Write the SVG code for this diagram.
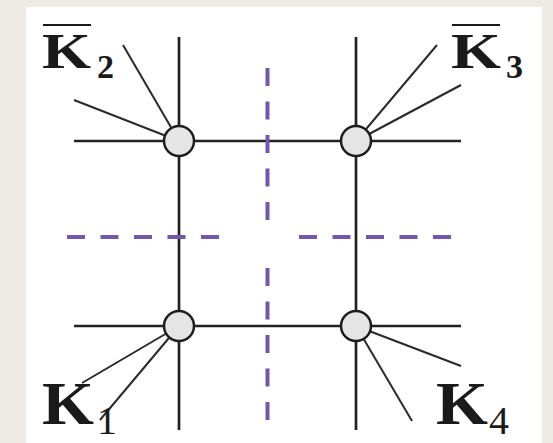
<svg xmlns="http://www.w3.org/2000/svg" width="553" height="443" viewBox="0 0 553 443">
  <style>
    .grid { stroke: #222; stroke-width: 2.7; fill: none; }
    .spoke { stroke: #2a2a2a; stroke-width: 2; fill: none; }
    .cut { stroke: #7257aa; stroke-width: 4; stroke-dasharray: 18 15.5; fill: none; }
    .vertex { fill: #e5e5e5; stroke: #1e1e1e; stroke-width: 2.5; }
    .K { font-family: "Liberation Serif", "Times New Roman", serif; font-weight: bold; fill: #1a1a1a; }
    .sub { font-family: "Liberation Serif", "Times New Roman", serif; fill: #1a1a1a; }
    .bar { stroke: #1a1a1a; stroke-width: 2.2; }
  </style>
  <rect x="0" y="0" width="553" height="443" fill="#eeebe4"/>
  <rect x="26" y="7" width="516" height="436" fill="#ffffff"/>

  <g id="connectors">
    <line class="grid" x1="179" y1="37" x2="179" y2="430"/>
    <line class="grid" x1="356" y1="37" x2="356" y2="430"/>
    <line class="grid" x1="74" y1="141" x2="461" y2="141"/>
    <line class="grid" x1="74" y1="326" x2="461" y2="326"/>
    <line class="spoke" x1="179" y1="141" x2="123" y2="45"/>
    <line class="spoke" x1="179" y1="141" x2="74" y2="100"/>
    <line class="spoke" x1="356" y1="141" x2="437" y2="45"/>
    <line class="spoke" x1="356" y1="141" x2="461" y2="85"/>
    <line class="spoke" x1="179" y1="326" x2="82" y2="383"/>
    <line class="spoke" x1="179" y1="326" x2="100" y2="420"/>
    <line class="spoke" x1="356" y1="326" x2="461" y2="366"/>
    <line class="spoke" x1="356" y1="326" x2="412" y2="421"/>
  </g>

  <g id="cuts">
    <line class="cut" x1="267.5" y1="68" x2="267.5" y2="220"/>
    <line class="cut" x1="267.5" y1="268" x2="267.5" y2="420"/>
    <line class="cut" x1="67" y1="237" x2="219" y2="237"/>
    <line class="cut" x1="299" y1="237" x2="451" y2="237"/>
  </g>

  <g id="v2"><circle class="vertex" cx="179" cy="141" r="15"/></g>
  <g id="v3"><circle class="vertex" cx="356" cy="141" r="15"/></g>
  <g id="v1"><circle class="vertex" cx="179" cy="326" r="15"/></g>
  <g id="v4"><circle class="vertex" cx="356" cy="326" r="15"/></g>

  <g id="label-K2">
    <line class="bar" x1="43" y1="25" x2="91" y2="25"/>
    <text class="K" x="42" y="68" font-size="50" textLength="49" lengthAdjust="spacingAndGlyphs">K</text>
    <text class="sub" x="97" y="78" font-size="34" font-weight="bold">2</text>
  </g>
  <g id="label-K3">
    <line class="bar" x1="452" y1="25" x2="500" y2="25"/>
    <text class="K" x="451" y="68" font-size="50" textLength="50" lengthAdjust="spacingAndGlyphs">K</text>
    <text class="sub" x="506" y="78" font-size="34" font-weight="bold">3</text>
  </g>
  <g id="label-K1">
    <text class="K" x="42" y="424" font-size="62" textLength="52" lengthAdjust="spacingAndGlyphs">K</text>
    <text class="sub" x="97" y="434" font-size="40">1</text>
  </g>
  <g id="label-K4">
    <text class="K" x="436" y="424" font-size="62" textLength="52" lengthAdjust="spacingAndGlyphs">K</text>
    <text class="sub" x="489" y="434" font-size="40">4</text>
  </g>
</svg>
